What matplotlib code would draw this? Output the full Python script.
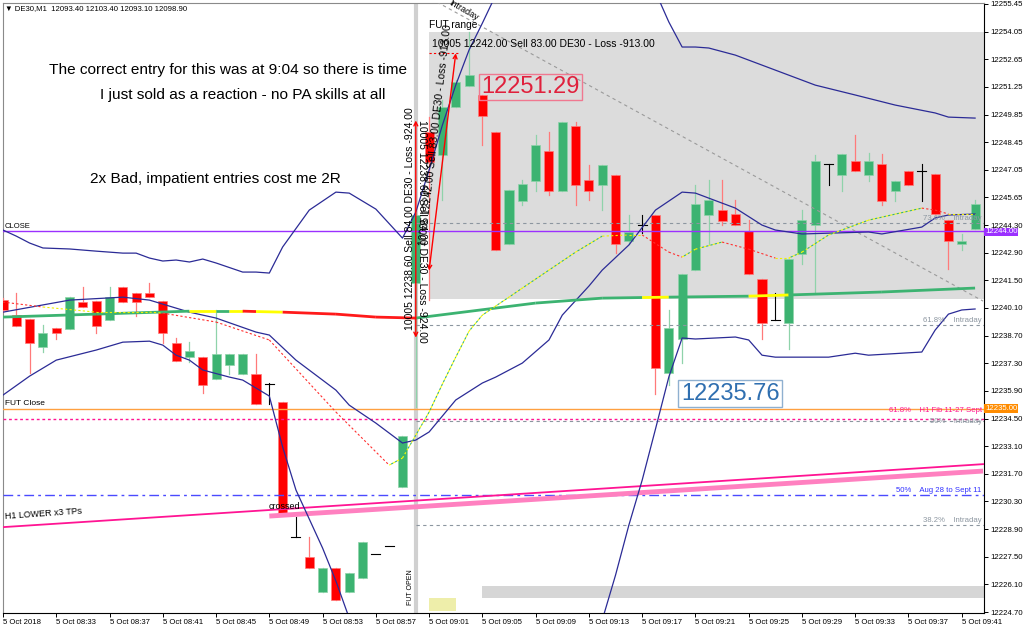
import matplotlib
matplotlib.use("Agg")
import matplotlib.pyplot as plt
from matplotlib.patches import Rectangle
import matplotlib.transforms as mtransforms

plt.rcParams['font.family'] = ['Liberation Sans', 'DejaVu Sans']

# one bar per minute, bar 0 = 08:29 on 5 Oct 2018
bar_open = [12240.50, 12239.74, 12239.54, 12238.12, 12239.08, 12239.03, 12240.40, 12240.45, 12239.49, 12241.16,
            12240.86, 12240.86, 12240.45, 12238.32, 12237.61, 12237.61, 12236.50, 12237.21, 12236.75, 12236.75,
            12236.25, 12235.33, 12228.50, 12227.48, 12225.71, 12226.93, 12225.71, 12226.42, 12227.63, 12228.04,
            12231.03, 12241.36, 12249.01, 12247.85, 12250.28, 12251.34, 12250.89, 12249.01, 12243.34, 12245.52,
            12246.53, 12248.05, 12246.02, 12249.32, 12246.58, 12246.33, 12246.83, 12243.49, 12244.30, 12244.81,
            12236.80, 12238.53, 12242.02, 12244.81, 12245.06, 12244.86, 12244.00, 12241.57, 12239.49, 12239.34,
            12242.83, 12244.30, 12247.39, 12246.83, 12247.54, 12246.83, 12247.39, 12246.02, 12247.04, 12247.04,
            12246.89, 12244.55, 12243.34, 12244.10]
bar_high = [12240.60, 12240.86, 12239.54, 12239.24, 12239.08, 12240.65, 12241.16, 12240.45, 12241.16, 12241.16,
            12240.86, 12241.36, 12240.45, 12238.58, 12238.37, 12237.61, 12240.00, 12237.77, 12237.77, 12237.77,
            12236.30, 12235.33, 12229.51, 12228.50, 12226.93, 12226.93, 12226.67, 12228.24, 12227.63, 12228.04,
            12233.61, 12244.91, 12249.77, 12250.63, 12251.65, 12254.08, 12250.89, 12249.01, 12246.07, 12246.58,
            12248.86, 12249.01, 12249.52, 12249.52, 12247.34, 12247.34, 12246.83, 12244.81, 12244.81, 12244.81,
            12240.00, 12241.82, 12246.33, 12246.58, 12246.58, 12245.57, 12244.55, 12241.57, 12240.86, 12242.58,
            12245.06, 12247.85, 12247.39, 12247.90, 12248.86, 12247.95, 12247.90, 12246.53, 12247.04, 12247.39,
            12246.89, 12244.55, 12243.85, 12245.57]
bar_low = [12239.89, 12239.18, 12236.80, 12237.87, 12238.53, 12239.03, 12240.15, 12238.83, 12239.49, 12240.40,
           12239.69, 12240.65, 12238.32, 12237.41, 12237.36, 12235.79, 12236.50, 12236.75, 12236.75, 12235.23,
           12235.23, 12229.66, 12228.50, 12226.93, 12225.71, 12225.30, 12225.71, 12226.42, 12227.63, 12228.04,
           12231.03, 12235.08, 12240.50, 12245.57, 12250.28, 12251.34, 12248.35, 12243.03, 12243.34, 12245.31,
           12246.02, 12245.82, 12246.02, 12245.31, 12245.57, 12245.06, 12242.88, 12243.34, 12243.90, 12235.76,
           12236.20, 12237.31, 12242.02, 12243.34, 12244.30, 12244.30, 12241.82, 12238.53, 12239.49, 12238.02,
           12242.33, 12240.86, 12246.33, 12246.02, 12247.04, 12246.53, 12245.31, 12245.52, 12246.33, 12245.52,
           12244.86, 12242.07, 12243.03, 12244.10]
bar_close = [12240.00, 12239.18, 12238.32, 12238.83, 12238.83, 12240.65, 12240.15, 12239.18, 12240.65, 12240.40,
             12240.40, 12240.65, 12238.83, 12237.41, 12237.92, 12236.20, 12237.77, 12237.77, 12237.77, 12235.23,
             12236.25, 12229.66, 12228.50, 12226.93, 12226.93, 12225.30, 12226.67, 12228.24, 12227.63, 12228.04,
             12233.61, 12244.81, 12247.49, 12250.28, 12251.55, 12251.90, 12249.82, 12243.03, 12246.07, 12246.38,
             12248.35, 12246.02, 12249.52, 12246.33, 12246.02, 12247.34, 12243.34, 12243.95, 12244.30, 12237.06,
             12239.08, 12241.82, 12245.37, 12245.57, 12244.50, 12244.30, 12241.82, 12239.34, 12239.49, 12242.58,
             12244.55, 12247.54, 12247.39, 12247.90, 12247.04, 12247.54, 12245.52, 12246.53, 12246.33, 12247.04,
             12244.86, 12243.49, 12243.49, 12245.37]

# bollinger bands (knots at bar indices)
upper_idx = [0, 1, 2, 3, 5, 7, 9, 10, 11, 12, 13, 14, 15, 16, 18, 19, 20, 21, 23, 25, 26, 28, 30, 31, 32, 33,
             34, 35, 36, 37, 40, 44, 48, 49, 50, 51, 52, 53, 55, 58, 61, 64, 67, 70, 71, 73]
upper_val = [12244.05, 12243.74, 12243.39, 12243.14, 12243.09, 12242.98, 12242.88, 12242.88, 12242.63, 12242.48,
             12242.53, 12242.43, 12242.58, 12242.38, 12241.92, 12241.92, 12241.87, 12243.19, 12245.06, 12245.97,
             12245.92, 12245.11, 12243.64, 12244.96, 12247.09, 12249.37, 12251.39, 12253.17, 12254.53, 12255.95,
             12257.50, 12258.00, 12257.00, 12256.11, 12254.59, 12253.32, 12253.32, 12253.27, 12252.91, 12252.15,
             12251.39, 12250.89, 12250.38, 12249.98, 12249.77, 12249.72]
mid_idx = [0, 5, 9, 11, 14, 16, 19, 20, 22, 25, 26, 28, 30, 31, 32, 34, 36, 37, 39, 41, 42, 44, 45, 47, 49,
           51, 52, 55, 57, 58, 60, 65, 66, 69, 70, 71, 73]
mid_val = [12239.89, 12240.50, 12240.65, 12240.50, 12239.89, 12239.59, 12238.88, 12238.73, 12237.46, 12235.94,
           12235.18, 12234.27, 12233.26, 12233.41, 12233.82, 12235.44, 12236.30, 12236.60, 12237.31, 12238.48,
           12239.74, 12241.21, 12242.02, 12243.29, 12245.06, 12245.97, 12245.92, 12245.16, 12244.30, 12244.05,
           12243.85, 12243.95, 12243.85, 12244.20, 12244.66, 12244.81, 12244.86]
lower_idx = [0, 2, 4, 7, 9, 11, 12, 13, 14, 15, 17, 18, 20, 21, 22, 24, 25, 26, 28, 35, 42, 44, 45, 46, 47,
             48, 49, 50, 51, 52, 55, 56, 57, 58, 62, 64, 65, 69, 70, 71, 72, 73]
lower_val = [12235.69, 12236.65, 12237.46, 12237.97, 12238.37, 12238.42, 12238.22, 12237.71, 12237.46, 12236.96,
             12236.60, 12236.45, 12235.64, 12233.06, 12230.88, 12227.94, 12226.27, 12224.39, 12221.50, 12217.50,
             12220.50, 12222.80, 12224.29, 12226.57, 12229.10, 12231.38, 12233.97, 12236.60, 12238.58, 12238.53,
             12238.63, 12238.48, 12237.71, 12237.61, 12237.61, 12237.81, 12237.71, 12237.87, 12238.98, 12239.79,
             12240.00, 12240.05]

# slow moving average, colour changes with its trend
slow_idx = [0, 7, 14, 16, 17, 18, 19, 21, 25, 28, 31, 40, 45, 48, 50, 56, 59, 66, 73]
slow_val = [12239.64, 12239.79, 12239.94, 12239.94, 12239.94, 12239.94, 12239.92, 12239.89, 12239.79, 12239.64,
            12239.59, 12240.35, 12240.60, 12240.63, 12240.65, 12240.70, 12240.76, 12240.91, 12241.11]
slow_state = ['up', 'up', 'flat', 'up', 'flat', 'down', 'flat', 'down', 'down', 'down',
              'up', 'up', 'up', 'flat', 'up', 'flat', 'up', 'up']

# fast moving average (dotted)
fast_idx = [0, 3, 7, 11, 12, 16, 20, 25, 29, 30, 31, 32, 33, 34, 35, 36, 37, 38, 39, 41, 43, 45, 47, 48, 50,
            51, 52, 54, 56, 58, 59, 60, 62, 65, 69, 70, 71, 73]
fast_val = [12240.40, 12240.15, 12239.89, 12239.89, 12239.84, 12239.39, 12238.48, 12234.83, 12232.14, 12232.50,
            12233.66, 12234.83, 12236.25, 12237.61, 12238.93, 12239.74, 12240.20, 12240.65, 12241.11, 12242.02,
            12242.93, 12243.74, 12243.80, 12243.80, 12242.93, 12242.68, 12243.08, 12243.44, 12243.08, 12242.63,
            12242.63, 12242.93, 12243.80, 12244.55, 12245.16, 12245.06, 12244.86, 12244.86]

# horizontal levels
close_level = 12244.00
fut_close = 12235.00
h1_fib_618 = 12234.47
aug_sept_50 = 12230.62
intraday_levels = [12244.40, 12239.24, 12234.37, 12229.10]
intraday_names = ['73.6%', '61.8%', '50%', '38.2%']

# trend lines (bar index, price)
h1_lower_x = [0, 73.6]
h1_lower_y = [12229.00, 12232.19]
crossed_x = [20, 73.6]
crossed_y = [12229.56, 12231.84]
fib_diag_x = [31.9, 73.6]
fib_diag_y = [12255.85, 12240.45]

# trades: open bar, open price, close bar, close price
trades = [(31, 12238.60, 31, 12249.60), (32, 12242.00, 34, 12253.00)]
trade_texts = ['10005 12238.60 Sell 84.00 DE30 - Loss -924.00', '10005 12242.00 Sell 83.00 DE30 - Loss -913.00']

high_label = 12251.29
low_label = 12235.76

y_ticks = [12224.70 + 1.4 * k for k in range(23)]
y_tick_labels = ['12224.70', '12226.10', '12227.50', '12228.90', '12230.30', '12231.70', '12233.10', '12234.50',
                 '12235.90', '12237.30', '12238.70', '12240.10', '12241.50', '12242.90', '12244.30', '12245.65',
                 '12247.05', '12248.45', '12249.85', '12251.25', '12252.65', '12254.05', '12255.45']
x_ticks = list(range(0, 73, 4))
x_tick_labels = ['5 Oct 2018', '5 Oct 08:33', '5 Oct 08:37', '5 Oct 08:41', '5 Oct 08:45', '5 Oct 08:49',
                 '5 Oct 08:53', '5 Oct 08:57', '5 Oct 09:01', '5 Oct 09:05', '5 Oct 09:09', '5 Oct 09:13',
                 '5 Oct 09:17', '5 Oct 09:21', '5 Oct 09:25', '5 Oct 09:29', '5 Oct 09:33', '5 Oct 09:37',
                 '5 Oct 09:41']

GREEN = '#3cb371'
GREEN_W = '#8fd3aa'
RED = '#ff0000'
RED_W = '#ff7a7a'
BLUE = '#2b2b96'
XR = 73.67
SMALL = 5.6


def draw_candles(ax):
  half = 0.34
  for i in range(len(bar_open)):
    o, h, l, c = bar_open[i], bar_high[i], bar_low[i], bar_close[i]
    if abs(c - o) < 1e-6:
      ax.plot([i, i], [l, h], color='black', lw=0.8, zorder=4)
      ax.plot([i - half, i + half], [c, c], color='black', lw=0.8, zorder=4)
      continue
    body = GREEN if c > o else RED
    wick = GREEN_W if c > o else RED_W
    ax.plot([i, i], [l, h], color=wick, lw=0.9, zorder=3)
    ax.add_patch(Rectangle((i - half, min(o, c)), 2 * half, abs(c - o),
                           facecolor=body, edgecolor=wick, lw=0.5, zorder=4))


def draw_slow_ma(ax):
  colours = {'up': GREEN, 'down': '#ff1a1a', 'flat': '#ffff00'}
  for k in range(len(slow_idx) - 1):
    ax.plot(slow_idx[k:k + 2], slow_val[k:k + 2], color=colours[slow_state[k]],
            lw=2.0, solid_capstyle='butt', zorder=6)


def draw_fast_ma(ax):
  for k in range(len(fast_idx) - 1):
    xs = fast_idx[k:k + 2]
    ys = fast_val[k:k + 2]
    slope = (ys[1] - ys[0]) / (xs[1] - xs[0])
    if slope > 0.08:
      ax.plot(xs, ys, color='#ffff00', lw=0.8, ls=(0, (2, 2)), zorder=6)
      ax.plot(xs, ys, color='#3cb371', lw=0.8, ls=(2, (2, 2)), zorder=6)
    elif slope < -0.08:
      ax.plot(xs, ys, color='#ff3030', lw=0.8, ls=(0, (2, 2)), zorder=6)
    else:
      ax.plot(xs, ys, color='#f0f000', lw=0.8, ls=(0, (2, 2)), zorder=6)


def main():
  fig = plt.figure(figsize=(10.24, 6.31), dpi=100)
  ax = fig.add_axes([3 / 1024, 18 / 631, 981 / 1024, 610 / 631])
  ax.set_xlim(0.075, XR)
  ax.set_ylim(12224.65, 12255.55)

  # background zones
  ax.add_patch(Rectangle((32, 12240.55), XR - 32, 12254.08 - 12240.55, facecolor='#dcdcdc', lw=0, zorder=0))
  ax.add_patch(Rectangle((36, 12225.41), XR - 36, 0.60, facecolor='#d6d6d6', lw=0, zorder=0))
  ax.add_patch(Rectangle((32, 12224.75), 2, 0.66, facecolor='#eeeeaa', lw=0, zorder=0))
  ax.axvline(31, color='#d0d0d0', lw=3, zorder=1)

  draw_candles(ax)

  # horizontal levels
  ax.axhline(close_level, color='#9b30ff', lw=1, zorder=5)
  ax.axhline(fut_close, color='#ffa040', lw=1, zorder=5)
  ax.axhline(h1_fib_618, color='#ff1493', lw=1, ls=(0, (2, 2)), zorder=5)
  ax.axhline(aug_sept_50, color='#4a4aff', lw=1, ls=(0, (7, 3, 2, 3)), zorder=5)
  for lvl in intraday_levels:
    ax.plot([31, XR], [lvl, lvl], color='#8c96a0', lw=0.8, ls=(0, (3, 3)), zorder=5)
  ax.plot(fib_diag_x, fib_diag_y, color='#9a9a9a', lw=0.8, ls=(0, (3, 3)), zorder=5)

  # trend lines
  ax.plot(crossed_x, crossed_y, color='#ff80c0', lw=3.5, solid_capstyle='butt', zorder=5)
  ax.plot(h1_lower_x, h1_lower_y, color='#ff1493', lw=1.3, zorder=5)

  # indicators
  ax.plot(upper_idx, upper_val, color=BLUE, lw=0.9, zorder=6)
  ax.plot(mid_idx, mid_val, color=BLUE, lw=0.9, zorder=6)
  ax.plot(lower_idx, lower_val, color=BLUE, lw=0.9, zorder=6)
  draw_slow_ma(ax)
  draw_fast_ma(ax)

  # trades
  for (b0, p0, b1, p1) in trades:
    ax.annotate('', xy=(b1, p1), xytext=(b0, p0),
                arrowprops=dict(arrowstyle='<->', color='red', lw=1, shrinkA=0, shrinkB=0,
                                mutation_scale=7), zorder=7)
  ax.plot([32, 34.2], [12253.00, 12253.00], color='red', lw=0.8, ls=(0, (2, 2)), zorder=7)
  ax.text(30.6, 12238.98, trade_texts[0], rotation=90, rotation_mode='anchor', ha='left', va='center',
          fontsize=7.5, zorder=8)
  ax.text(31.45, 12249.62, trade_texts[0], rotation=-90, rotation_mode='anchor', ha='left', va='center',
          fontsize=7.5, zorder=8)
  ax.text(32.5, 12248.86, trade_texts[1], rotation=83.5, rotation_mode='anchor', ha='center', va='center',
          fontsize=7.5, zorder=8)
  ax.text(32.25, 12253.47, trade_texts[1], ha='left', va='center', fontsize=7.5, zorder=8)

  # price labels
  ax.text(35.95, high_label, '%.2f' % high_label, color='#e0203c', fontsize=17, ha='left', va='center', zorder=9,
          bbox=dict(boxstyle='square,pad=0.1', facecolor='none', edgecolor='#f07890', lw=1))
  ax.text(50.9, low_label, '%.2f' % low_label, color='#2f6fb0', fontsize=17, ha='left', va='center', zorder=9,
          bbox=dict(boxstyle='square,pad=0.1', facecolor='none', edgecolor='#8fb0d0', lw=1))

  # comments
  ax.text(16.9, 12252.15, 'The correct entry for this was at 9:04 so there is time', fontsize=11.1,
          ha='center', va='center', zorder=9)
  ax.text(18.0, 12250.89, 'I just sold as a reaction - no PA skills at all', fontsize=11.1,
          ha='center', va='center', zorder=9)
  ax.text(15.98, 12246.63, '2x Bad, impatient entries cost me 2R', fontsize=11.1,
          ha='center', va='center', zorder=9)

  # object labels
  ax.text(0.15, 12244.25, 'CLOSE', fontsize=5.5, ha='left', va='center', zorder=9)
  ax.text(0.15, 12235.28, 'FUT Close', fontsize=6, ha='left', va='center', zorder=9)
  ax.text(0.1, 12229.55, 'H1 LOWER x3 TPs', fontsize=6.5, rotation=4, rotation_mode='anchor',
          ha='left', va='center', zorder=9)
  ax.text(19.95, 12230.02, 'crossed', fontsize=6.5, ha='left', va='center', zorder=9)
  ax.text(31.96, 12254.43, 'FUT range', fontsize=7.3, ha='left', va='center', zorder=9)
  ax.text(34.6, 12255.19, 'Intraday', fontsize=6.5, rotation=-30, ha='center', va='center', zorder=9)
  ax.text(30.6, 12225.05, 'FUT OPEN', fontsize=5, rotation=90, rotation_mode='anchor',
          ha='left', va='center', zorder=9)

  rx = 73.5
  ax.text(rx, 12234.92, '61.8%    H1 Fib 11-27 Sept', color='#ff1493', fontsize=SMALL, ha='right', va='center', zorder=9)
  ax.text(rx, 12230.83, '50%    Aug 28 to Sept 11', color='#3030ff', fontsize=SMALL, ha='right', va='center', zorder=9)
  for lvl, name in zip(intraday_levels, intraday_names):
    dy = 0.0 if name == '50%' else 0.25
    ax.text(rx, lvl + dy, name + '    Intraday', color='#8c96a0', fontsize=SMALL, ha='right', va='center', zorder=9)

  # axes styling
  for side in ['left', 'top']:
    ax.spines[side].set_color('#8a8a8a')
  ax.spines['right'].set_color('black')
  ax.spines['bottom'].set_color('black')
  ax.yaxis.tick_right()
  ax.set_yticks(y_ticks)
  ax.set_yticklabels(y_tick_labels)
  ax.set_xticks(x_ticks)
  ax.set_xticklabels(x_tick_labels, ha='left')
  ax.tick_params(axis='both', labelsize=SMALL, length=3, width=0.7, pad=1.5)

  trans = mtransforms.blended_transform_factory(ax.transAxes, ax.transData)
  ax.text(1.001, close_level - 0.05, '12244.00', transform=trans, color='white', fontsize=SMALL, ha='left',
          va='center', zorder=10, bbox=dict(boxstyle='square,pad=0.1', facecolor='#9b30ff', edgecolor='none'))
  ax.text(1.001, fut_close, '12235.00', transform=trans, color='white', fontsize=SMALL, ha='left', va='center',
          zorder=10, bbox=dict(boxstyle='square,pad=0.15', facecolor='#ff8c00', edgecolor='none'))

  fig.text(5 / 1024, 1 - 9 / 631, '\u25bc DE30,M1  12093.40 12103.40 12093.10 12098.90', fontsize=SMALL,
           ha='left', va='center')

  fig.savefig('out.png', dpi=100)


if __name__ == "__main__":
  main()
